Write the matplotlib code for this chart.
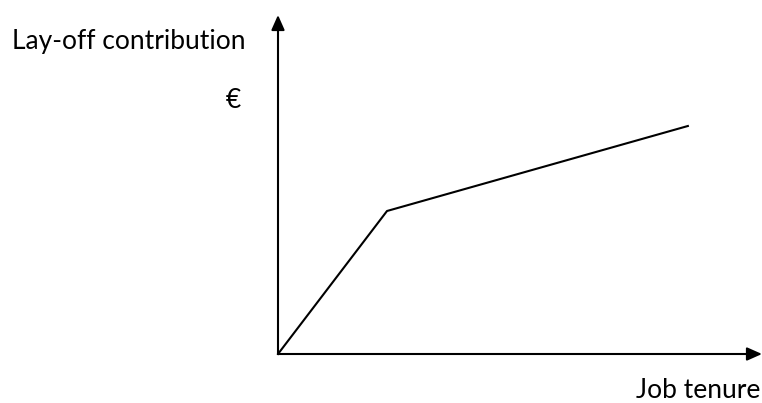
import matplotlib.pyplot as plt

# Piecewise-linear lay-off contribution vs job tenure (arbitrary units)
tenure = [0, 10.0, 37.6]
contribution = [0, 14.3, 22.8]

W, H = 762, 403
ox, oy = 278, 354          # origin in pixels
fig = plt.figure(figsize=(W / 100, H / 100), dpi=100)
ax = fig.add_axes([ox / W, (H - oy) / H, (W - ox) / W, (oy - 15) / H])
ax.set_xlim(0, 44.4)
ax.set_ylim(0, 33.9)
ax.axis('off')

ax.plot(tenure, contribution, color='black', linewidth=1.5, clip_on=False)

# axes with arrowheads
arrow = dict(arrowstyle='-|>,head_length=0.9,head_width=0.4', color='black',
             linewidth=1.5, shrinkA=0, shrinkB=0)
ax.annotate('', xy=(0, 1), xytext=(0, 0), xycoords='axes fraction', arrowprops=arrow)
ax.annotate('', xy=(1, 0), xytext=(0, 0), xycoords='axes fraction', arrowprops=arrow)

font = 'Lato'
fs = 19
fig.text(12 / W, 1 - 42 / H, 'Lay-off contribution', family=font, fontsize=fs,
         ha='left', va='center')
fig.text(233 / W, 1 - 100 / H, '€', family=font, fontsize=fs, ha='center', va='center')
fig.text(760 / W, 1 - 390 / H, 'Job tenure', family=font, fontsize=fs,
         ha='right', va='center')

fig.savefig('out.png', dpi=100)
